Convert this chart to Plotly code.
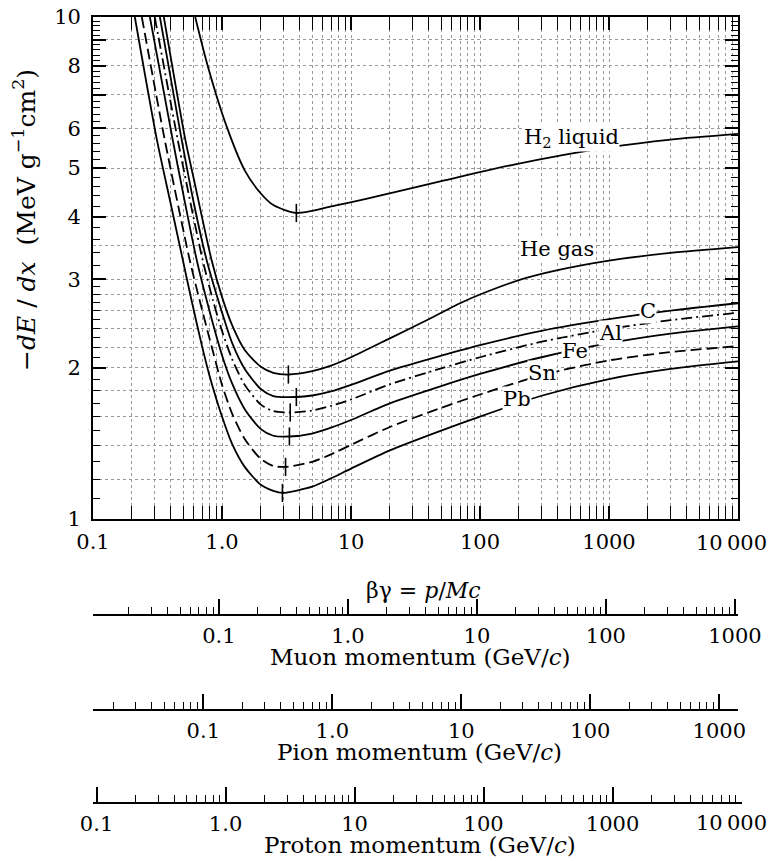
import math
import plotly.graph_objects as go

# ---------------- data ----------------
H2_BG = [0.62, 0.774, 1.10, 1.5, 2.0, 2.5, 3.77, 7.2, 13.1, 23.6, 54, 176, 1045, 3000, 10000]
H2_Y = [10.0, 8.0, 6.0, 4.95, 4.45, 4.22, 4.07, 4.2, 4.34, 4.5, 4.73, 5.07, 5.51, 5.70, 5.85]

HE_BG = [0.354, 0.52, 0.6, 0.83, 1.0, 1.2, 1.5, 2.0, 2.5, 3.27, 5.0, 7.0, 10, 20, 40, 70, 100, 200, 400, 1000, 3000, 10000]
HE_Y = [10.0, 5.69, 4.80, 3.28, 2.77, 2.43, 2.17, 2.01, 1.955, 1.94, 1.97, 2.02, 2.10, 2.29, 2.50, 2.69, 2.80, 2.99, 3.13, 3.27, 3.39, 3.48]

C_BG = [0.33, 0.487, 0.6, 0.76, 1.0, 1.2, 1.5, 2.0, 2.5, 3.77, 5.0, 7.0, 10, 20, 50, 100, 300, 1000, 3000, 10000]
C_Y = [10.0, 5.69, 4.30, 3.28, 2.58, 2.24, 1.99, 1.815, 1.757, 1.75, 1.762, 1.795, 1.85, 1.975, 2.115, 2.22, 2.37, 2.50, 2.60, 2.69]

AL_BG = [0.301, 0.454, 0.6, 0.708, 0.85, 1.0, 1.2, 1.5, 2.0, 2.5, 3.38, 5.0, 7.0, 10, 20, 50, 100, 300, 1000, 3000, 10000]
AL_Y = [10.0, 5.69, 4.0, 3.28, 2.73, 2.37, 2.08, 1.85, 1.69, 1.64, 1.63, 1.645, 1.68, 1.73, 1.855, 1.995, 2.10, 2.255, 2.39, 2.49, 2.575]

FE_BG = [0.276, 0.415, 0.5, 0.637, 0.76, 1.0, 1.2, 1.5, 2.0, 2.5, 3.33, 5.0, 7.0, 10, 20, 50, 100, 300, 1000, 3000, 10000]
FE_Y = [10.0, 5.69, 4.45, 3.28, 2.73, 2.12, 1.86, 1.655, 1.51, 1.465, 1.46, 1.48, 1.52, 1.575, 1.70, 1.84, 1.945, 2.10, 2.24, 2.34, 2.42]

SN_BG = [0.239, 0.36, 0.562, 0.67, 0.8, 1.0, 1.2, 1.5, 2.0, 2.5, 3.11, 5.0, 7.0, 10, 20, 50, 100, 300, 1000, 3000, 10000]
SN_Y = [10.0, 5.69, 3.28, 2.73, 2.29, 1.85, 1.62, 1.443, 1.317, 1.275, 1.27, 1.30, 1.345, 1.405, 1.525, 1.665, 1.77, 1.935, 2.07, 2.15, 2.21]

PB_BG = [0.211, 0.313, 0.4, 0.497, 0.58, 0.7, 0.8, 1.0, 1.2, 1.5, 2.0, 2.5, 2.94, 5.0, 7.0, 10, 20, 50, 100, 300, 1000, 3000, 10000]
PB_Y = [10.0, 5.69, 4.25, 3.28, 2.73, 2.21, 1.93, 1.60, 1.41, 1.27, 1.17, 1.138, 1.127, 1.16, 1.205, 1.26, 1.37, 1.50, 1.60, 1.76, 1.90, 1.99, 2.06]

# minimum-ionization markers
MIN_BG = [3.77, 3.27, 3.77, 3.38, 3.33, 3.11, 2.94]
MIN_Y = [4.07, 1.94, 1.75, 1.63, 1.46, 1.27, 1.127]

# particle masses (GeV/c^2) for the momentum scales
MUON_MASS = 0.1056584
PION_MASS = 0.1395702
PROTON_MASS = 0.9382720

BG_MIN, BG_MAX = 0.1, 10000.0

X_MAJOR = [0.1, 1, 10, 100, 1000, 10000]
X_MAJOR_TEXT = ["0.1", "1.0", "10", "100", "1000", ""]
Y_MAJOR = [1, 2, 3, 4, 5, 6, 7, 8, 9, 10]
Y_MAJOR_TEXT = ["1", "2", "3", "4", "5", "6", "", "8", "", "10"]
Y_MINOR = [1.1, 1.2, 1.3, 1.4, 1.5, 1.6, 1.7, 1.8, 1.9, 2.1, 2.2, 2.3, 2.4, 2.5, 2.6, 2.7, 2.8, 2.9,
           3.2, 3.4, 3.6, 3.8, 4.2, 4.4, 4.6, 4.8, 5.2, 5.4, 5.6, 5.8, 6.2, 6.4, 6.6, 6.8,
           7.2, 7.4, 7.6, 7.8, 8.2, 8.4, 8.6, 8.8, 9.2, 9.4, 9.6, 9.8]
Y_GRID = [1.2, 1.4, 1.6, 1.8, 2.0, 2.2, 2.4, 2.6, 2.8, 3.0, 3.5, 4, 5, 6, 7, 8, 9]

MOM_MAJOR = [0.1, 1, 10, 100, 1000, 10000]
MOM_MAJOR_TEXT = ["0.1", "1.0", "10", "100", "1000", ""]
LAST_LABEL = "10\u2009000"

# ---------------- layout geometry ----------------
FIG_W, FIG_H = 781, 861
L, R, T, B = 93, 35, 17, 20
PW = FIG_W - L - R
PH = FIG_H - T - B
X_RIGHT_PX = 738
Y_BOTTOM_PX = 519


def px_x(px):
    return (px - L) / PW


def px_y(py):
    return (FIG_H - B - py) / PH


FONT = "DejaVu Serif"
GRID_COLOR = "#999999"

main_dom_x = [0, px_x(X_RIGHT_PX)]
main_dom_y = [px_y(Y_BOTTOM_PX), 1]
px_per_decade = (X_RIGHT_PX - L) / (math.log10(BG_MAX) - math.log10(BG_MIN))


def minor_vals(lo, hi):
    vals = []
    for e in range(-3, 6):
        for k in range(2, 10):
            v = k * 10 ** e
            if lo <= math.log10(v) <= hi + 1e-9:
                vals.append(v)
    return vals


fig = go.Figure()

curves = [
    (H2_BG, H2_Y, "solid"),
    (HE_BG, HE_Y, "solid"),
    (C_BG, C_Y, "solid"),
    (AL_BG, AL_Y, "11px,4px,2px,4px"),
    (FE_BG, FE_Y, "solid"),
    (SN_BG, SN_Y, "11px,5px"),
    (PB_BG, PB_Y, "solid"),
]
for xs, ys, dash in curves:
    fig.add_trace(go.Scatter(x=xs, y=ys, mode="lines",
                             line=dict(color="black", width=1.8, dash=dash, shape="spline", smoothing=0.7),
                             showlegend=False, hoverinfo="skip"))

fig.add_trace(go.Scatter(x=MIN_BG, y=MIN_Y, mode="markers",
                         marker=dict(symbol="line-ns", size=13, line=dict(color="black", width=1.6)),
                         showlegend=False, hoverinfo="skip"))

# dummy trace for the grid overlay axis
fig.add_trace(go.Scatter(x=[1], y=[2], xaxis="x", yaxis="y2", mode="markers",
                         marker=dict(opacity=0), showlegend=False, hoverinfo="skip"))

# momentum scales
mom_axes = [
    ("x2", MUON_MASS, 615, math.log10(BG_MAX * MUON_MASS)),
    ("x3", PION_MASS, 710, math.log10(BG_MAX * PION_MASS)),
    ("x4", PROTON_MASS, 803, 4.0),
]
layout_axes = {}
for name, mass, ypx, hi in mom_axes:
    lo = math.log10(BG_MIN * mass)
    end_px = L + (hi - lo) * px_per_decade
    keep = [i for i, v in enumerate(MOM_MAJOR) if lo <= math.log10(v) <= hi + 1e-9]
    majors = [MOM_MAJOR[i] for i in keep]
    texts = [MOM_MAJOR_TEXT[i] for i in keep]
    fig.add_trace(go.Scatter(x=[majors[0]], y=[1], xaxis=name, yaxis="y3", mode="markers",
                             marker=dict(opacity=0), showlegend=False, hoverinfo="skip"))
    layout_axes["xaxis" + name[1:]] = dict(
        type="log", range=[lo, hi], domain=[0, px_x(end_px)], anchor="free", position=px_y(ypx),
        showline=True, linecolor="black", linewidth=1.6, showgrid=False, zeroline=False,
        ticks="inside", ticklen=15, tickwidth=1.5, tickcolor="black",
        tickmode="array", tickvals=majors, ticktext=texts,
        minor=dict(tickmode="array", tickvals=minor_vals(lo, hi), ticks="inside", ticklen=7,
                   tickwidth=1.3, tickcolor="black", showgrid=False),
        tickfont=dict(family=FONT, size=21, color="black"), ticklabelstandoff=2,
        fixedrange=True, automargin=False,
    )

fig.update_layout(
    width=FIG_W, height=FIG_H,
    margin=dict(l=L, r=R, t=T, b=B, autoexpand=False),
    paper_bgcolor="white", plot_bgcolor="rgba(0,0,0,0)",
    font=dict(family=FONT, size=20, color="black"),
    xaxis=dict(
        type="log", range=[math.log10(BG_MIN), math.log10(BG_MAX)], domain=main_dom_x, anchor="y",
        showline=True, linecolor="black", linewidth=1.8, mirror="allticks",
        ticks="inside", ticklen=13, tickwidth=1.6, tickcolor="black",
        tickmode="array", tickvals=X_MAJOR, ticktext=X_MAJOR_TEXT,
        showgrid=True, gridcolor=GRID_COLOR, griddash="dot", gridwidth=1,
        minor=dict(tickmode="array", tickvals=minor_vals(-1, 4), ticks="inside", ticklen=7,
                   tickwidth=1.4, tickcolor="black", showgrid=True, gridcolor=GRID_COLOR,
                   griddash="dot", gridwidth=1),
        tickfont=dict(family=FONT, size=21, color="black"), ticklabelstandoff=3,
        zeroline=False, automargin=False,
    ),
    yaxis=dict(
        type="log", range=[0, 1], domain=main_dom_y, anchor="x",
        showline=True, linecolor="black", linewidth=1.8, mirror="allticks",
        ticks="inside", ticklen=13, tickwidth=1.6, tickcolor="black",
        tickmode="array", tickvals=Y_MAJOR, ticktext=Y_MAJOR_TEXT,
        showgrid=False,
        minor=dict(tickmode="array", tickvals=Y_MINOR, ticks="inside", ticklen=7,
                   tickwidth=1.3, tickcolor="black", showgrid=False),
        tickfont=dict(family=FONT, size=21, color="black"), ticklabelstandoff=6,
        zeroline=False, automargin=False,
    ),
    yaxis2=dict(
        type="log", range=[0, 1], overlaying="y", anchor="x", side="left",
        tickmode="array", tickvals=Y_GRID, showticklabels=False, ticks="",
        showgrid=True, gridcolor=GRID_COLOR, griddash="dot", gridwidth=1,
        showline=False, zeroline=False, automargin=False,
    ),
    yaxis3=dict(domain=[0, 0.01], visible=False, range=[0, 2], anchor="free", position=0,
                automargin=False),
    **layout_axes,
)

ann = []


def add_text(text, px, py, size=21, angle=0, bg=None, xanchor="center"):
    a = dict(text=text, x=px_x(px), y=px_y(py), xref="paper", yref="paper", showarrow=False,
             font=dict(family=FONT, size=size, color="black"), textangle=angle, xanchor=xanchor,
             yanchor="middle")
    if bg:
        a["bgcolor"] = bg
        a["borderpad"] = 0
    ann.append(a)


add_text("H<sub>2</sub> liquid", 571, 138, bg="white")
add_text("He gas", 557, 249, bg="white")
add_text("C", 648, 311, bg="white")
add_text("Al", 610, 333, bg="white")
add_text("Fe", 575, 351, bg="white")
add_text("Sn", 542, 373, bg="white")
add_text("Pb", 517, 399, bg="white")

# right-end tick labels (shifted in from the frame edge as in the reference)
add_text(LAST_LABEL, 731, 543)
add_text(LAST_LABEL, 731, 823)

add_text("βγ = <i>p</i>/<i>Mc</i>", 423, 590, size=22)
add_text("Muon momentum (GeV/<i>c</i>)", 421, 657, size=23)
add_text("Pion momentum (GeV/<i>c</i>)", 420, 752, size=23)
add_text("Proton momentum (GeV/<i>c</i>)", 420, 845, size=23)
add_text("\u2212<i>dE</i> / <i>dx</i>  (MeV g<sup>\u22121</sup>cm<sup>2</sup>)", 25, 220, size=25, angle=-90)

fig.update_layout(annotations=ann)

fig.write_html("out.html", config={"displayModeBar": False},
               post_script="document.body.style.margin='0px';document.body.style.overflow='hidden';")
